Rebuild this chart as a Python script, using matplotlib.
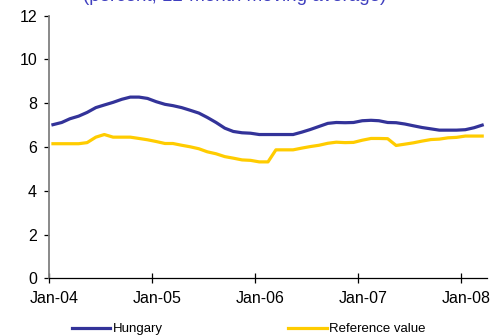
import matplotlib
matplotlib.use("Agg")
import matplotlib.pyplot as plt
import matplotlib.dates as mdates
from matplotlib.transforms import ScaledTranslation
import numpy as np
import pandas as pd

plt.rcParams['font.family'] = ['Liberation Sans', 'DejaVu Sans']

# Monthly data, Jan-2004 .. Mar-2008
months = pd.date_range('2004-01-01', '2008-03-01', freq='MS') + pd.Timedelta(days=14)
hungary = [7.02, 7.12, 7.29, 7.41, 7.58, 7.80, 7.92, 8.04, 8.18, 8.28, 8.28, 8.22,
           8.07, 7.95, 7.89, 7.80, 7.68, 7.55, 7.35, 7.12, 6.86, 6.71, 6.65, 6.63,
           6.57, 6.57, 6.57, 6.57, 6.57, 6.68, 6.80, 6.94, 7.08, 7.12, 7.11, 7.12,
           7.20, 7.22, 7.20, 7.12, 7.11, 7.05, 6.97, 6.89, 6.83, 6.77, 6.77, 6.77,
           6.79, 6.88, 7.00]
reference = [6.15, 6.15, 6.15, 6.15, 6.20, 6.45, 6.57, 6.45, 6.45, 6.45, 6.39, 6.33,
             6.25, 6.16, 6.16, 6.08, 6.01, 5.92, 5.78, 5.69, 5.56, 5.49, 5.41, 5.39,
             5.32, 5.32, 5.87, 5.87, 5.87, 5.95, 6.02, 6.08, 6.17, 6.22, 6.20, 6.21,
             6.31, 6.39, 6.39, 6.38, 6.07, 6.13, 6.19, 6.27, 6.34, 6.36, 6.42, 6.44,
             6.50, 6.50, 6.50]
tick_dates = pd.to_datetime(['2004-01-01', '2005-01-01', '2006-01-01', '2007-01-01', '2008-01-01'])
tick_labels = ['Jan-04', 'Jan-05', 'Jan-06', 'Jan-07', 'Jan-08']
y_ticks = [0, 2, 4, 6, 8, 10, 12]
series_names = ['Hungary', 'Reference value']
colors = ['#333399', '#FFCC00']
title = '(percent; 12-month moving average)'

fig = plt.figure(figsize=(4.91, 3.36), dpi=100)
ax = fig.add_axes([49/491, 1-278.3/336, (487-49)/491, (278.3-15.7)/336])

ax.plot(months, hungary, color=colors[0], lw=2.3, label=series_names[0], solid_joinstyle='round')
ax.plot(months, reference, color=colors[1], lw=2.3, label=series_names[1], solid_joinstyle='round')

ax.set_ylim(0, 12)
ax.set_yticks(y_ticks)
ax.set_xlim(pd.Timestamp('2004-01-01'), pd.Timestamp('2008-04-01'))
ax.set_xticks(tick_dates)
ax.set_xticklabels(tick_labels)

for s in ['top', 'right']:
    ax.spines[s].set_visible(False)
ax.spines['left'].set_color('#808080')
ax.spines['left'].set_linewidth(1.3)
ax.spines['bottom'].set_color('black')
ax.spines['bottom'].set_linewidth(0.9)

ax.tick_params(axis='y', direction='out', length=3.6, width=0.9, color='black',
               labelsize=11.5, pad=5)
ax.tick_params(axis='x', direction='inout', length=6.5, width=0.9, color='black',
               labelsize=11.5, pad=6)
off = ScaledTranslation(5/100, 0, fig.dpi_scale_trans)
for lbl in ax.get_xticklabels():
    lbl.set_transform(lbl.get_transform() + off)

fig.text(235/491, 1-1.0/336, title, ha='center', va='baseline',
         color='#3F3FBF', fontsize=13.5)

leg = fig.legend(loc='center left', bbox_to_anchor=(72/491, 1-329/336),
                 ncol=2, frameon=False, fontsize=9.5, handlelength=2.9,
                 handletextpad=0.2, columnspacing=9.5, borderpad=0,
                 borderaxespad=0)
for line in leg.get_lines():
    line.set_linewidth(2.3)

fig.savefig('out.png', dpi=100)
